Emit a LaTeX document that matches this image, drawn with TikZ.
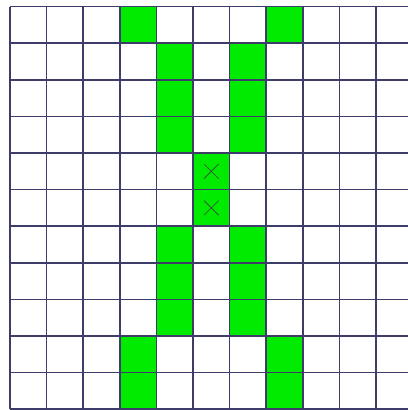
\documentclass[tikz,border=0pt]{standalone}
\usepackage{xcolor}
\usepackage{tikz}
\usetikzlibrary{calc}
\definecolor{cellgreen}{RGB}{0, 235, 0}
\definecolor{gridnavy}{RGB}{62, 60, 104}

\begin{document}
\begin{tikzpicture}[
  scale=0.9,
  cell/.style={fill=cellgreen, draw=none},
  gridline/.style={draw=gridnavy, line width=1.1pt},
  xmark/.style={draw=black!75, line width=0.45pt}
]
\useasboundingbox (-0.273,-0.02) rectangle (10.847,11.18);

% outer green cells (top and bottom)
\foreach \c/\r in {3/10, 7/10, 3/1, 3/0, 7/1, 7/0}
  \fill[cell] (\c,\r) rectangle ++(1,1);

% inner green columns
\foreach \r in {9,8,7,4,3,2} {
  \fill[cell] (4,\r) rectangle ++(1,1);
  \fill[cell] (6,\r) rectangle ++(1,1);
}

% middle cells with marks
\foreach \r in {6,5} {
  \fill[cell] (5,\r) rectangle ++(1,1);
  \coordinate (m\r) at (5.5,\r+0.5);
  \draw[xmark] ($(m\r)+(-0.2,-0.2)$) -- ($(m\r)+(0.2,0.2)$);
  \draw[xmark] ($(m\r)+(-0.2,0.2)$) -- ($(m\r)+(0.2,-0.2)$);
}

% grid
\draw[gridline] (0,0) grid (11,11);

\end{tikzpicture}
\end{document}
